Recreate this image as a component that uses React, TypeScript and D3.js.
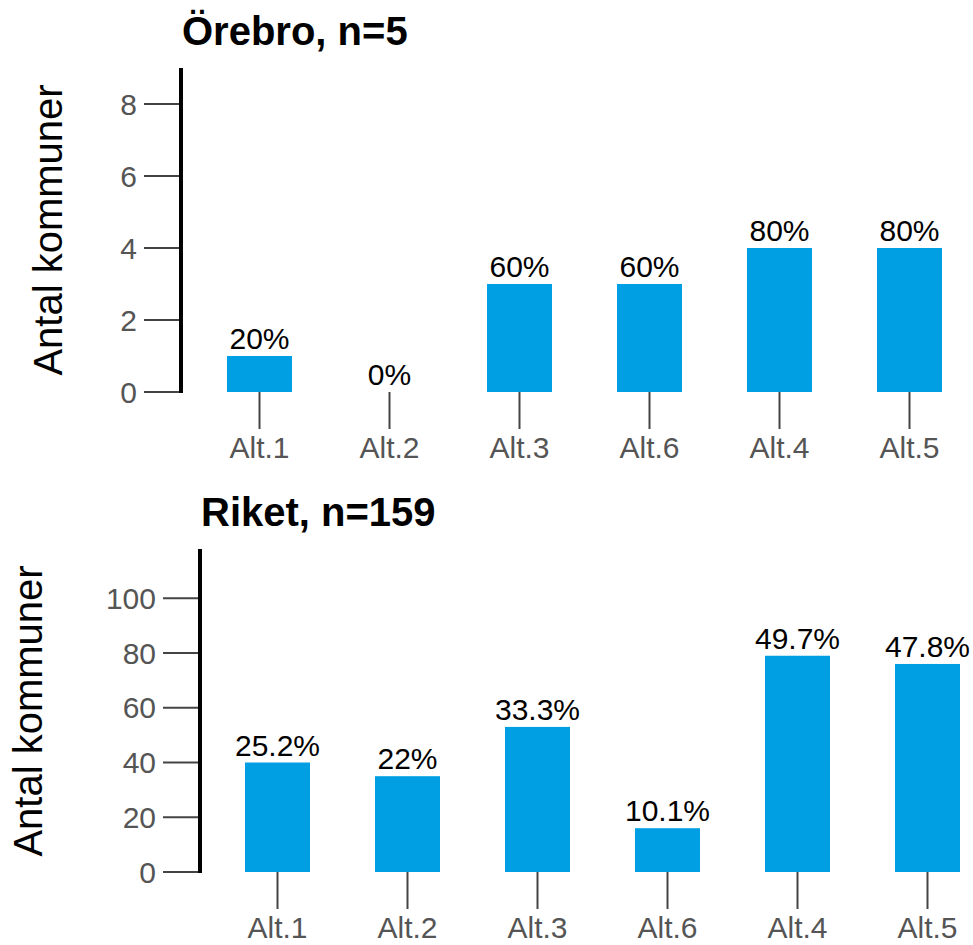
import { useEffect, useRef } from "react";
import * as d3 from "d3";

const categories = ["Alt.1", "Alt.2", "Alt.3", "Alt.6", "Alt.4", "Alt.5"];

const orebroCounts = [1, 0, 3, 3, 4, 4];
const orebroLabels = ["20%", "0%", "60%", "60%", "80%", "80%"];
const orebroTicks = [0, 2, 4, 6, 8];

const riketCounts = [40, 35, 53, 16, 79, 76];
const riketLabels = ["25.2%", "22%", "33.3%", "10.1%", "49.7%", "47.8%"];
const riketTicks = [0, 20, 40, 60, 80, 100];

const FONT = "'Liberation Sans', Arial, sans-serif";
const BAR = "#009fe3";
const GREY = "#555555";

interface Panel {
  title: string;
  counts: number[];
  labels: string[];
  ticks: number[];
  yMax: number;
  axisX: number;
  y0: number;
  y1: number;
  xStart: number;
  titleY: number;
  labelX: number;
  labelMid: number;
}

const panels: Panel[] = [
  {
    title: "Örebro, n=5",
    counts: orebroCounts,
    labels: orebroLabels,
    ticks: orebroTicks,
    yMax: 9,
    axisX: 181,
    y0: 392,
    y1: 68,
    xStart: 194.5,
    titleY: 45,
    labelX: 62,
    labelMid: 230,
  },
  {
    title: "Riket, n=159",
    counts: riketCounts,
    labels: riketLabels,
    ticks: riketTicks,
    yMax: 118,
    axisX: 200,
    y0: 872,
    y1: 549,
    xStart: 212.5,
    titleY: 526,
    labelX: 42,
    labelMid: 711,
  },
];

export default function App() {
  const svgRef = useRef<SVGSVGElement>(null);

  useEffect(() => {
    if (!svgRef.current) return;
    const svg = d3.select(svgRef.current);
    svg.selectAll("*").remove();

    panels.forEach((p) => {
      const g = svg.append("g");

      const x = d3
        .scaleBand<string>()
        .domain(categories)
        .range([p.xStart, p.xStart + 780])
        .paddingInner(0.5)
        .paddingOuter(0.25);

      const y = d3.scaleLinear().domain([0, p.yMax]).range([p.y0, p.y1]);

      // title
      g.append("text")
        .attr("x", p.axisX + 1)
        .attr("y", p.titleY)
        .attr("font-family", FONT)
        .attr("font-weight", "bold")
        .attr("font-size", 40)
        .attr("fill", "#000")
        .text(p.title);

      // y axis title
      g.append("text")
        .attr("transform", `translate(${p.labelX},${p.labelMid}) rotate(-90)`)
        .attr("text-anchor", "middle")
        .attr("font-family", FONT)
        .attr("font-size", 40)
        .attr("fill", "#000")
        .text("Antal kommuner");

      // y ticks
      const yt = g.selectAll("g.ytick").data(p.ticks).join("g").attr("class", "ytick");
      yt.append("line")
        .attr("x1", p.axisX - 37)
        .attr("x2", p.axisX)
        .attr("y1", (d) => y(d))
        .attr("y2", (d) => y(d))
        .attr("stroke", "#444")
        .attr("stroke-width", 2);
      yt.append("text")
        .attr("x", p.axisX - 44)
        .attr("y", (d) => y(d))
        .attr("dy", "0.35em")
        .attr("text-anchor", "end")
        .attr("font-family", FONT)
        .attr("font-size", 30)
        .attr("fill", GREY)
        .text((d) => d);

      // axis line
      g.append("line")
        .attr("x1", p.axisX)
        .attr("x2", p.axisX)
        .attr("y1", y(p.yMax))
        .attr("y2", y(0) + 1)
        .attr("stroke", "#000")
        .attr("stroke-width", 4);

      // bars
      g.selectAll("rect.bar")
        .data(p.counts)
        .join("rect")
        .attr("class", "bar")
        .attr("x", (_, i) => x(categories[i])!)
        .attr("width", x.bandwidth())
        .attr("y", (d) => y(d))
        .attr("height", (d) => y(0) - y(d))
        .attr("fill", BAR);

      // value labels
      g.selectAll("text.val")
        .data(p.counts)
        .join("text")
        .attr("class", "val")
        .attr("x", (_, i) => x(categories[i])! + x.bandwidth() / 2)
        .attr("y", (d) => y(d) - 7)
        .attr("text-anchor", "middle")
        .attr("font-family", FONT)
        .attr("font-size", 30)
        .attr("fill", "#000")
        .text((_, i) => p.labels[i]);

      // x ticks
      const xt = g.selectAll("g.xtick").data(categories).join("g").attr("class", "xtick");
      xt.append("line")
        .attr("x1", (d) => x(d)! + x.bandwidth() / 2)
        .attr("x2", (d) => x(d)! + x.bandwidth() / 2)
        .attr("y1", y(0))
        .attr("y2", y(0) + 37)
        .attr("stroke", "#444")
        .attr("stroke-width", 2);
      xt.append("text")
        .attr("x", (d) => x(d)! + x.bandwidth() / 2)
        .attr("y", y(0) + 66)
        .attr("text-anchor", "middle")
        .attr("font-family", FONT)
        .attr("font-size", 30)
        .attr("fill", GREY)
        .text((d) => d);
    });
  }, []);

  return (
    <svg
      ref={svgRef}
      width={973}
      height={945}
      style={{ position: "absolute", left: 0, top: 0, background: "#fff" }}
    />
  );
}
